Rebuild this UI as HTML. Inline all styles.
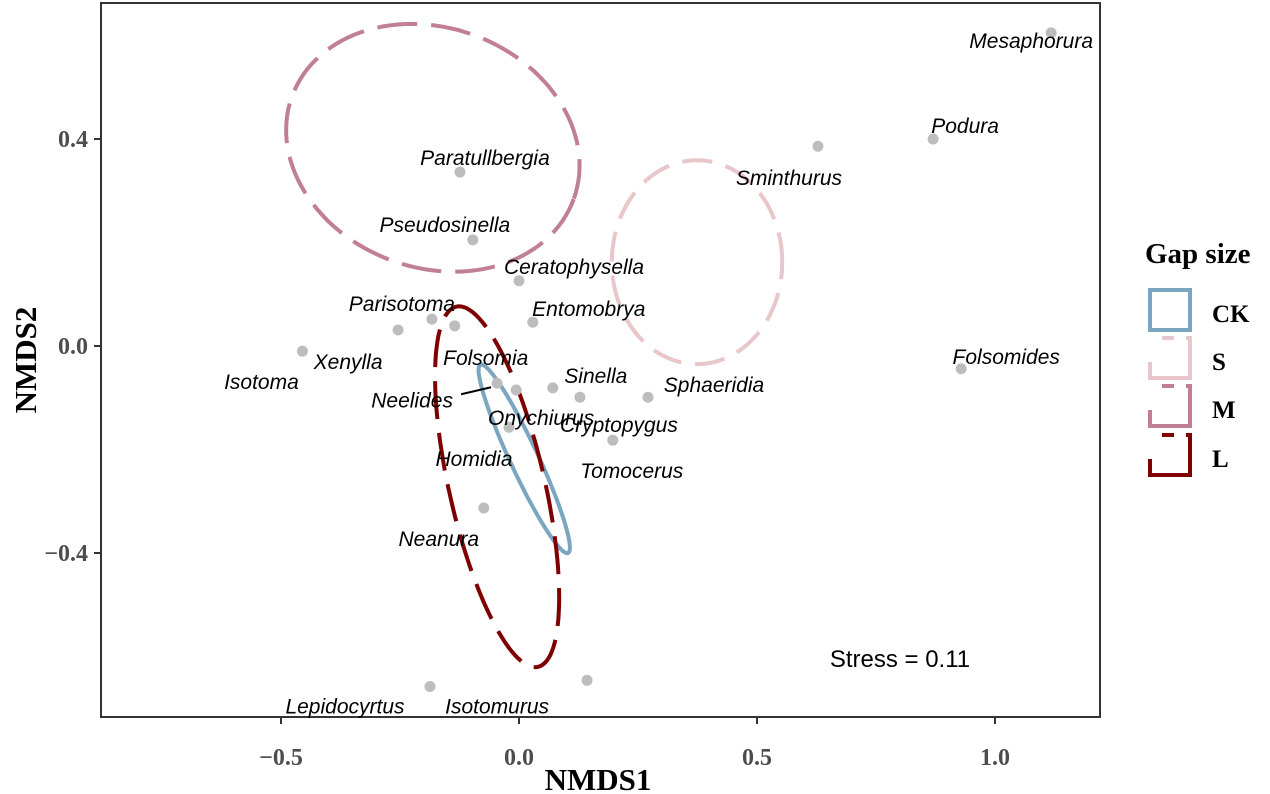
<!DOCTYPE html>
<html><head><meta charset="utf-8"><style>
body{margin:0;background:#fff}
svg{display:block}
.lab{font-family:"Liberation Sans",sans-serif;font-style:italic;font-size:21px;fill:#000}
.tick{font-family:"Liberation Serif",serif;font-weight:bold;font-size:24px;fill:#4d4d4d}
.title{font-family:"Liberation Serif",serif;font-weight:bold;font-size:31px;fill:#000}
</style></head><body>
<svg id="chart" width="1270" height="794">
<rect x="101" y="3" width="999" height="714" fill="#fff" stroke="#333" stroke-width="2"/>
<g id="ticks"></g><g id="ells"></g><g id="pts"></g>
<text class="title" x="598" y="790" text-anchor="middle">NMDS1</text>
<text class="title" transform="translate(36,360) rotate(-90)" text-anchor="middle">NMDS2</text>
<text x="900" y="667" text-anchor="middle" style="font-family:'Liberation Sans',sans-serif;font-size:24px">Stress = 0.11</text>
<g>
<text class="title" x="1145" y="263" style="font-size:29px">Gap size</text>
<rect x="1150" y="290" width="40" height="40" fill="none" stroke="#7aa6bf" stroke-width="4"/>
<rect x="1150" y="338" width="40" height="40" fill="none" stroke="#e8c6c9" stroke-width="4" stroke-dasharray="12 12 100 40" stroke-dashoffset="-12"/>
<rect x="1150" y="386" width="40" height="40" fill="none" stroke="#c07f93" stroke-width="4" stroke-dasharray="12 12 100 40" stroke-dashoffset="-12"/>
<rect x="1150" y="435" width="40" height="40" fill="none" stroke="#7f0000" stroke-width="4" stroke-dasharray="12 12 100 40" stroke-dashoffset="-12"/>
<text class="title" x="1212" y="322" style="font-size:25px">CK</text>
<text class="title" x="1212" y="370" style="font-size:25px">S</text>
<text class="title" x="1212" y="418" style="font-size:25px">M</text>
<text class="title" x="1212" y="467" style="font-size:25px">L</text>
</g>
</svg>
<script>
const taxa=["Mesaphorura","Podura","Sminthurus","Folsomides","Paratullbergia","Pseudosinella","Ceratophysella","Entomobrya","Parisotoma","Folsomia","Xenylla","Isotoma","Neelides","Onychiurus","Sinella","Cryptopygus","Sphaeridia","Homidia","Tomocerus","Neanura","Lepidocyrtus","Isotomurus"];
const nmds1=[1.118,0.870,0.628,0.929,-0.124,-0.097,0.000,0.029,-0.183,-0.135,-0.254,-0.455,-0.046,-0.006,0.071,0.128,0.271,-0.021,0.197,-0.074,-0.187,0.143];
const nmds2=[0.605,0.400,0.386,-0.044,0.336,0.205,0.126,0.046,0.052,0.039,0.031,-0.010,-0.072,-0.085,-0.081,-0.099,-0.099,-0.157,-0.182,-0.313,-0.658,-0.646];
const xTicks=[-0.5,0.0,0.5,1.0];
const xTickLabels=["\u22120.5","0.0","0.5","1.0"];
const yTicks=[0.4,0.0,-0.4];
const yTickLabels=["0.4","0.0","\u22120.4"];
const groups=["CK","S","M","L"];
const ellCx=[0.011,0.374,-0.181,-0.046];
const ellCy=[-0.218,0.162,0.383,-0.272];
const ellAx=[-0.092,0.179,0.296,-0.086];
const ellAy=[0.182,0,-0.099,0.348];
const ellBx=[0.027,0,-0.086,0.098];
const ellBy=[0.011,0.197,-0.218,0.021];
const colors=["#7aa6bf","#e8c6c9","#c07f93","#7f0000"];
const dashes=["none","30 14","40 14","38 14"];
const labDx=[-20,32,-29,45,25,-28,55,56,-30,31,-50,-41,-85,25,43,39,66,-35,19,-45,-85,-90];
const labDy=[8,-13,32,-12,-14,-15,-14,-13,-15,32,32,31,17,28,-12,28,-12,32,31,31,20,26];
const X=v=>519+v*476, Y=v=>346-v*517.5;
const NS="http://www.w3.org/2000/svg";
function mk(t,a,p){const e=document.createElementNS(NS,t);for(const k in a)e.setAttribute(k,a[k]);p.appendChild(e);return e;}
const tg=document.getElementById('ticks');
xTicks.forEach((v,i)=>{
 const l=mk('line',{x1:X(v),x2:X(v),y1:717,y2:724,stroke:'#333','stroke-width':2},tg);
 
 
 const t=mk('text',{x:X(v),y:765,'text-anchor':'middle',class:'tick'},tg);t.textContent=xTickLabels[i];
 
 
});
yTicks.forEach((v,i)=>{
 const l=mk('line',{x1:94,x2:101,y1:Y(v),y2:Y(v),stroke:'#333','stroke-width':2},tg);
 
 
 const t=mk('text',{x:88,y:Y(v)+8,'text-anchor':'end',class:'tick'},tg);t.textContent=yTickLabels[i];
 
 
});
const eg=document.getElementById('ells');
groups.forEach((g,i)=>{
 let d='';
 for(let k=0;k<=120;k++){const t=k/120*2*Math.PI;
  const x=ellCx[i]+ellAx[i]*Math.cos(t)+ellBx[i]*Math.sin(t);
  const y=ellCy[i]+ellAy[i]*Math.cos(t)+ellBy[i]*Math.sin(t);
  d+=(k?'L':'M')+X(x).toFixed(1)+' '+Y(y).toFixed(1);}
 const p=mk('path',{d:d+'Z',fill:'none',stroke:colors[i],'stroke-width':4,'stroke-dasharray':dashes[i]},eg);
 
 
});
const pg=document.getElementById('pts');
taxa.forEach((n,i)=>{
 const c=mk('circle',{cx:X(nmds1[i]),cy:Y(nmds2[i]),r:5.5,fill:'#bdbdbd'},pg);
 
 
});
const lg=mk('line',{x1:X(nmds1[12])-36,y1:Y(nmds2[12])+11,x2:X(nmds1[12])-6,y2:Y(nmds2[12])+4,stroke:'#000','stroke-width':2},pg);


taxa.forEach((n,i)=>{
 const t=mk('text',{x:X(nmds1[i])+labDx[i],y:Y(nmds2[i])+labDy[i]+7,'text-anchor':'middle',class:'lab'},pg);
 t.textContent=n;
 
 
});
</script>
</body></html>
